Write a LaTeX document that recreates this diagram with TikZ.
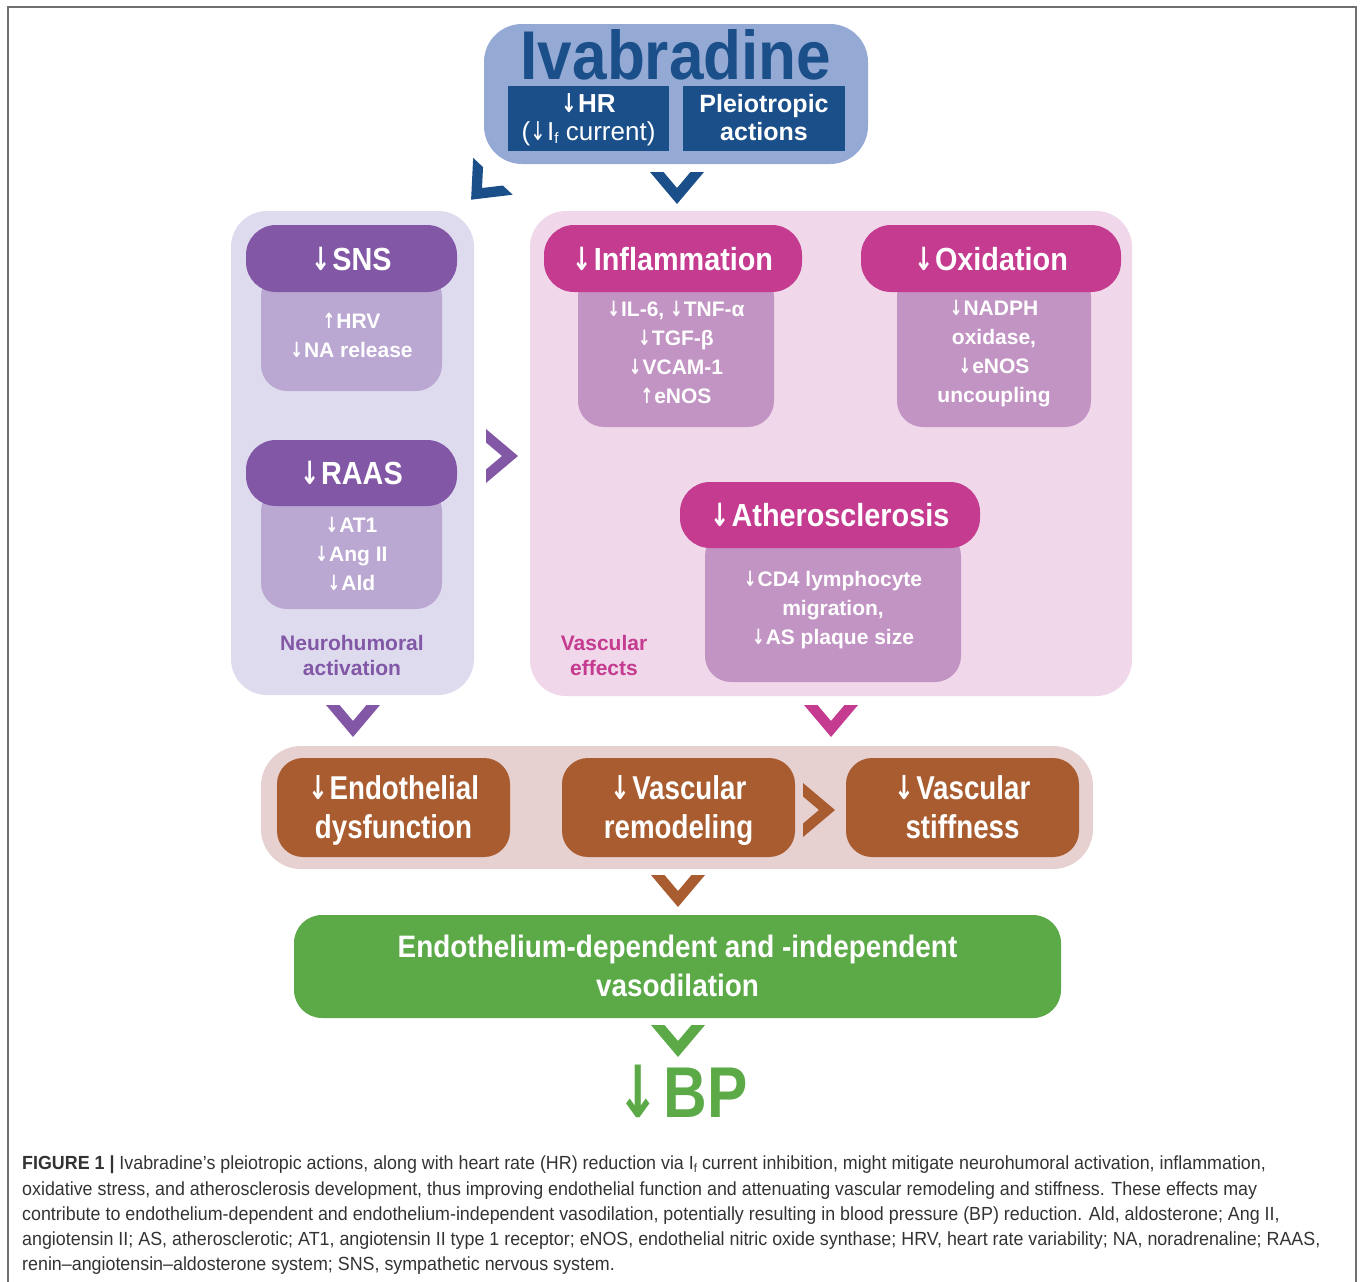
\documentclass[tikz,border=0pt]{standalone}
\usepackage{fontspec}
\setmainfont{Liberation Sans}
\newfontfamily\fHead{Liberation Sans}[FakeStretch=0.9]
\newfontfamily\fCond{Liberation Sans}[FakeStretch=0.84]
\newfontfamily\fGreen{Liberation Sans}[FakeStretch=0.9]
\newfontfamily\fCap{Liberation Sans}[FakeStretch=0.94]
\newfontfamily\fArr{DejaVu Sans}[FakeStretch=0.72]
\newcommand\dn{{\fArr ↓}\hspace{0.05em}}
\newcommand\up{{\fArr ↑}\hspace{0.05em}}
\definecolor{ivlight}{HTML}{94AAD5}
\definecolor{ivdark}{HTML}{1B4F8A}
\definecolor{neupanel}{HTML}{DFDBEF}
\definecolor{neuhead}{HTML}{8157A6}
\definecolor{neusub}{HTML}{BAA8D2}
\definecolor{vaspanel}{HTML}{F0D8EA}
\definecolor{vashead}{HTML}{C43B90}
\definecolor{vassub}{HTML}{C294C4}
\definecolor{bandc}{HTML}{E6D0D0}
\definecolor{brownc}{HTML}{A95C2F}
\definecolor{greenc}{HTML}{5BAA47}
\definecolor{framec}{HTML}{707070}
\definecolor{capc}{HTML}{333333}
\newcommand\chevshape[4]{%
  \fill[#1, shift={(#2,#3)}, rotate=#4] (-27,-16) -- (-13.5,-16) -- (0,0) -- (13.5,-16) -- (27,-16) -- (0,16) -- cycle;}
\begin{document}
\begin{tikzpicture}[x=1pt,y=-1pt,
  box/.style={rectangle, inner sep=0pt, outer sep=0pt},
  panel/.style={box, rounded corners=36pt},
  headbox/.style={box, rounded corners=30pt, minimum height=67pt},
  subbox/.style={box, rounded corners=26pt},
  headtxt/.style={inner sep=0pt, anchor=base, text=white, font=\fHead\bfseries\fontsize{32}{32}\selectfont},
  subtxt/.style={inner sep=0pt, text=white, align=center, font=\bfseries\fontsize{21}{29}\selectfont},
  paneltxt/.style={inner sep=0pt, align=center, font=\bfseries\fontsize{21}{25}\selectfont},
  browntxt/.style={inner sep=0pt, text=white, align=center, font=\fCond\bfseries\fontsize{33}{39}\selectfont},
]
\useasboundingbox (0,0) rectangle (1360,1282);
% frame
\draw[framec, line width=2pt] (8,1282) -- (8,7) -- (1356,7) -- (1356,1282);

% Ivabradine
\node[box, rounded corners=38pt, fill=ivlight, minimum width=384pt, minimum height=140pt] (iv) at (676,94) {};
\node[inner sep=0pt, anchor=base, text=ivdark, font=\fHead\bfseries\fontsize{69}{69}\selectfont] (ivt) at (676,79) {Ivabradine};
\node[box, fill=ivdark, minimum width=161pt, minimum height=65pt] (hr) at (588.5,118.5) {};
\node[inner sep=0pt, text=white, align=center, font=\fontsize{26}{28}\selectfont] (hrt) at (588.5,120.4) {\strut{\bfseries\dn HR}\\(\dn I\raisebox{-0.25ex}{\fontsize{15}{15}\selectfont f} current)\strut};
\node[box, fill=ivdark, minimum width=162pt, minimum height=65pt] (pl) at (764,118.5) {};
\node[inner sep=0pt, text=white, align=center, font=\bfseries\fontsize{25}{28}\selectfont] (plt) at (764,120.4) {\strut Pleiotropic\\actions\strut};

% panels
\node[panel, fill=neupanel, minimum width=243pt, minimum height=484pt] (neu) at (352.5,453) {};
\node[panel, fill=vaspanel, minimum width=602pt, minimum height=485pt] (vas) at (831,453.5) {};

% SNS
\node[subbox, fill=neusub, minimum width=181pt, minimum height=121pt] (snssub) at (351.5,330.5) {};
\node[headbox, fill=neuhead, minimum width=211pt] (sns) at (351.5,258.5) {};
\node[headtxt] (snst) at (351.5,270) {\dn SNS};
\node[subtxt] (snsst) at (351.5,337.2) {\strut\up HRV\\\dn NA release\strut};
% RAAS
\node[subbox, fill=neusub, minimum width=181pt, minimum height=124pt] (raassub) at (351.5,547) {};
\node[headbox, fill=neuhead, minimum width=211pt, minimum height=66pt] (raas) at (351.5,473) {};
\node[headtxt] (raast) at (351.5,484) {\dn RAAS};
\node[subtxt] (raasst) at (351.5,555.7) {\strut\dn AT1\\\dn Ang II\\\dn Ald\strut};
\node[paneltxt, text=neuhead] (neut) at (352,658) {\strut Neurohumoral\\activation\strut};

% Inflammation
\node[subbox, fill=vassub, minimum width=196pt, minimum height=157pt] (inflsub) at (676,348.5) {};
\node[headbox, fill=vashead, minimum width=258pt] (infl) at (673,258.5) {};
\node[headtxt] (inflt) at (673,270) {\dn Inflammation};
\node[subtxt] (inflst) at (676,354.2) {\strut\dn IL-6, \dn TNF-α\\\dn TGF-β\\\dn VCAM-1\\\up eNOS\strut};
% Oxidation
\node[subbox, fill=vassub, minimum width=194pt, minimum height=157pt] (oxsub) at (994,348.5) {};
\node[headbox, fill=vashead, minimum width=260pt] (ox) at (991,258.5) {};
\node[headtxt] (oxt) at (991,270) {\dn Oxidation};
\node[subtxt] (oxst) at (994,353.2) {\strut\dn NADPH\\oxidase,\\\dn eNOS\\uncoupling\strut};
% Atherosclerosis
\node[subbox, fill=vassub, minimum width=256pt, minimum height=152pt] (athsub) at (833,606) {};
\node[headbox, fill=vashead, minimum width=300pt, minimum height=66pt] (ath) at (830,515) {};
\node[headtxt] (atht) at (830,526) {\dn Atherosclerosis};
\node[subtxt] (athst) at (833,609.7) {\strut\dn CD4 lymphocyte\\migration,\\\dn AS plaque size\strut};
\node[paneltxt, text=vashead] (vast) at (604,658) {\strut Vascular\\effects\strut};

% band
\node[box, rounded corners=40pt, fill=bandc, minimum width=832pt, minimum height=123pt] (band) at (677,807.5) {};
\node[box, rounded corners=26pt, fill=brownc, minimum width=233pt, minimum height=99pt] (endo) at (393.5,807.5) {};
\node[browntxt] (endot) at (393.5,811.5) {\strut\dn Endothelial\\dysfunction\strut};
\node[box, rounded corners=26pt, fill=brownc, minimum width=233pt, minimum height=99pt] (remo) at (678.5,807.5) {};
\node[browntxt] (remot) at (678.5,811.5) {\strut\dn Vascular\\remodeling\strut};
\node[box, rounded corners=26pt, fill=brownc, minimum width=233pt, minimum height=99pt] (stiff) at (962.5,807.5) {};
\node[browntxt] (stifft) at (962.5,811.5) {\strut\dn Vascular\\stiffness\strut};

% green
\node[box, rounded corners=28pt, fill=greenc, minimum width=767pt, minimum height=103pt] (vaso) at (677.5,966.5) {};
\node[inner sep=0pt, text=white, align=center, font=\fGreen\bfseries\fontsize{31}{39}\selectfont] (vasot) at (677.5,968.8) {\strut Endothelium-dependent and -independent\\vasodilation\strut};

% BP
\node[inner sep=0pt, anchor=base, text=greenc, font=\fCond\bfseries\fontsize{72}{72}\selectfont] (bp) at (682,1117) {\dn BP};

% chevrons
\chevshape{ivdark}{677}{188}{0}
\chevshape{ivdark}{482}{188}{-43}
\chevshape{neuhead}{502}{456}{90}
\chevshape{neuhead}{353}{721}{0}
\chevshape{vashead}{831}{721}{0}
\chevshape{brownc}{819}{810}{90}
\chevshape{brownc}{678}{891}{0}
\chevshape{greenc}{678}{1041}{0}

% caption
\node[inner sep=0pt, anchor=north west, align=left, text=capc, font=\fCap\fontsize{19}{25.2}\selectfont] (cap) at (22,1156) {%
\textbf{FIGURE 1 |} Ivabradine’s pleiotropic actions, along with heart rate (HR) reduction via I\raisebox{-0.25ex}{\fontsize{12}{12}\selectfont f} current inhibition, might mitigate neurohumoral activation, inflammation,\\
oxidative stress, and atherosclerosis development, thus improving endothelial function and attenuating vascular remodeling and stiffness. These effects may\\
contribute to endothelium-dependent and endothelium-independent vasodilation, potentially resulting in blood pressure (BP) reduction. Ald, aldosterone; Ang II,\\
angiotensin II; AS, atherosclerotic; AT1, angiotensin II type 1 receptor; eNOS, endothelial nitric oxide synthase; HRV, heart rate variability; NA, noradrenaline; RAAS,\\
renin–angiotensin–aldosterone system; SNS, sympathetic nervous system.};
\end{tikzpicture}
\end{document}
